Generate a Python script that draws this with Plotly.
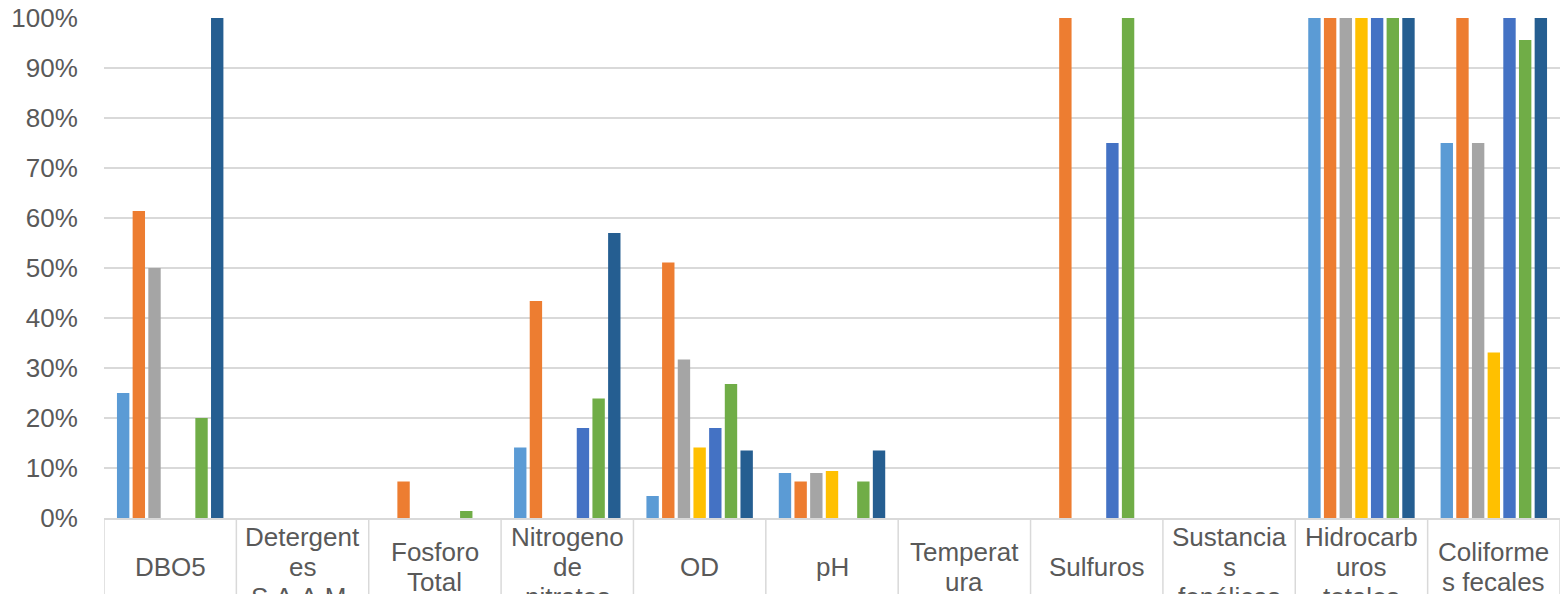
import plotly.graph_objects as go

categories = ["DBO5", "Detergentes S.A.A.M.", "Fosforo Total", "Nitrogeno de nitratos", "OD", "pH",
              "Temperatura", "Sulfuros", "Sustancias fenólicas", "Hidrocarburos totales", "Coliformes fecales"]
tick_labels = ["DBO5", "Detergent<br>es<br>S.A.A.M.", "Fosforo<br>Total", "Nitrogeno<br>de<br>nitratos", "OD", "pH",
               "Temperat<br>ura", "Sulfuros", "Sustancia<br>s<br>fenólicas", "Hidrocarb<br>uros<br>totales",
               "Coliforme<br>s fecales"]

serie_1 = [0.25, 0, 0, 0.141, 0.044, 0.090, 0, 0, 0, 1.00, 0.75]
serie_2 = [0.614, 0, 0.073, 0.434, 0.511, 0.073, 0, 1.00, 0, 1.00, 1.00]
serie_3 = [0.50, 0, 0, 0, 0.317, 0.090, 0, 0, 0, 1.00, 0.75]
serie_4 = [0, 0, 0, 0, 0.141, 0.094, 0, 0, 0, 1.00, 0.331]
serie_5 = [0, 0, 0, 0.180, 0.180, 0, 0, 0.75, 0, 1.00, 1.00]
serie_6 = [0.20, 0, 0.014, 0.239, 0.268, 0.073, 0, 1.00, 0, 1.00, 0.956]
serie_7 = [1.00, 0, 0, 0.570, 0.135, 0.135, 0, 0, 0, 1.00, 1.00]

series = [serie_1, serie_2, serie_3, serie_4, serie_5, serie_6, serie_7]
names = ["Serie 1", "Serie 2", "Serie 3", "Serie 4", "Serie 5", "Serie 6", "Serie 7"]
colors = ["#5B9BD5", "#ED7D31", "#A5A5A5", "#FFC000", "#4472C4", "#70AD47", "#255E91"]

FONT = "Liberation Sans, Arial, sans-serif"
TXT = "#595959"
GRID = "#D9D9D9"

fig = go.Figure()
for vals, nm, col in zip(series, names, colors):
    fig.add_trace(go.Bar(x=categories, y=vals, name=nm, marker=dict(color=col, line=dict(width=0))))

H, W = 594, 1560
mt, mb, ml, mr = 18, 76, 104, 0
ph = H - mt - mb

# category dividers
shapes = []
for i in range(len(categories) + 1):
    shapes.append(dict(type="line", xref="x", yref="paper", x0=i - 0.5, x1=i - 0.5, y0=0, y1=-(mb + 2) / ph,
                       line=dict(color=GRID, width=1.5), layer="below"))

annotations = []
center_px = 49  # pixels below axis for centre of label block
line_h = 30
for i, lab in enumerate(tick_labels):
    lines = lab.split("<br>")
    n = len(lines)
    for j, ln in enumerate(lines):
        off = center_px + (j - (n - 1) / 2) * line_h
        annotations.append(dict(x=categories[i], y=-off / ph, xref="x", yref="paper", text=ln, showarrow=False,
                                xanchor="center", yanchor="middle",
                                font=dict(family=FONT, size=26, color=TXT)))

fig.update_layout(
    width=W, height=H,
    margin=dict(l=ml, r=mr, t=mt, b=mb, pad=0),
    paper_bgcolor="white", plot_bgcolor="white",
    barmode="group", bargap=0.171, bargroupgap=0.21,
    showlegend=False,
    shapes=shapes, annotations=annotations,
    xaxis=dict(type="category", range=[-0.5, len(categories) - 0.5], showticklabels=False, showgrid=False,
               showline=True, linecolor=GRID, linewidth=1.5, ticks="", zeroline=False),
    yaxis=dict(range=[0, 1], tickvals=[i / 10 for i in range(11)], tickformat=".0%",
               showgrid=True, gridcolor=GRID, gridwidth=1.5, zeroline=False, showline=False,
               ticks="outside", ticklen=20, tickcolor="rgba(0,0,0,0)",
               tickfont=dict(family=FONT, size=26, color=TXT)),
)

fig.write_html("out.html")
